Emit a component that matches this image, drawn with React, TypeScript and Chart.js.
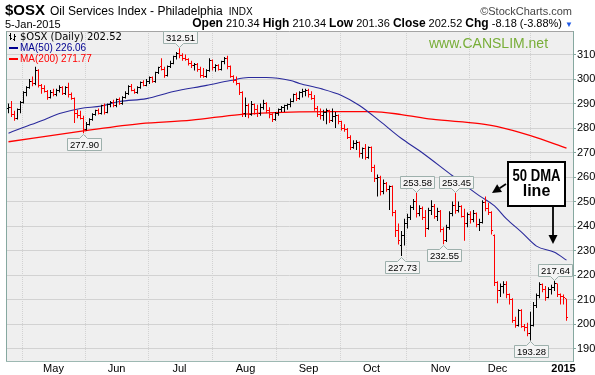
import { useEffect, useRef } from 'react';
import { Chart, registerables } from 'chart.js';

Chart.register(...registerables);

// ---------- data ----------
const monthStarts = [15, 36, 57, 79, 100, 121, 144, 163, 185];
const monthLabels = ['May', 'Jun', 'Jul', 'Aug', 'Sep', 'Oct', 'Nov', 'Dec', '2015'];
const priceTicks = [190, 200, 210, 220, 230, 240, 250, 260, 270, 280, 290, 300, 310];

const opens = [
  288, 288.5, 285.5, 284, 287.5, 290.5, 294.5, 296.5, 299, 298, 303.5, 297.5, 296, 295, 292.5,
  294.5, 293.5, 295.5, 296.5, 294, 296.5, 293.5, 292, 286, 285, 284, 279.5, 281.5, 283.5, 285.5, 287, 286, 289, 286.5, 289.5, 290.5,
  289, 291.5, 290, 292.5, 294, 297, 295.5, 294.5, 296.5, 298.5, 297.5, 299, 300.5, 299, 302.5, 305, 304, 301.5, 305, 306.5, 309,
  310.5, 309.5, 308.5, 308, 306.5, 305.5, 306, 304, 301.5, 301, 303.5, 307.5, 304.5, 305.5, 304, 307, 308.5, 305, 301, 299.5, 298, 294.5,
  286, 289, 285.5, 289.5, 287.5, 286, 288.5, 290, 287, 285.5, 283.5, 286, 287.5, 288.5, 289, 289.5, 291, 293.5, 292, 294.5, 295,
  295.5, 293.5, 292, 288, 285.5, 285, 286.5, 287, 283, 284.5, 285, 282.5, 280, 279.5, 276, 272, 273.5, 274, 269.5, 271.5, 268,
  272, 264, 259.5, 260, 254, 257.5, 255, 256, 245.5, 238, 232, 236, 241, 243.5, 247.5, 250, 245, 247, 243.5, 239, 246.5, 248, 244,
  246, 238.5, 234, 239.5, 245, 248.5, 246.5, 248, 244, 241, 244.5, 242.5, 245, 240.5, 241.5, 249.5, 247, 245.5, 236,
  217, 213.5, 215.5, 216, 212, 210, 201.5, 199.5, 205.5, 199, 198.5, 196, 199.5, 207.5, 211.5, 216, 214, 211, 214, 215, 216.5, 212,
  211.3, 210.34,
];
const highs = [
  290, 291, 287, 288, 291, 295, 297, 300, 301, 305, 304, 298, 297.5, 295.5, 295.5,
  296, 296, 297.5, 297, 297, 298.5, 294.5, 292.5, 287.5, 287, 285, 282.5, 284, 286, 287.5, 288, 289.5, 290, 290, 291, 291.5,
  292, 292.5, 293, 295, 297.5, 298, 296, 297, 299, 299.5, 300, 301, 301, 303, 305, 308.5, 305, 305.5, 307.5, 309.5, 311,
  312.51, 310.5, 310, 308.5, 307.5, 306.5, 306.5, 305, 304.5, 304, 308.5, 308, 306, 306, 307.5, 309, 309.5, 305.5, 301.5, 301, 298.5, 295,
  292.5, 290, 291, 290, 289.5, 290, 291.5, 290.5, 288.5, 286, 286.5, 288, 289, 289.5, 290, 292, 294, 294.5, 295, 296, 296,
  296, 295, 293.5, 289, 288, 287.5, 288, 287.5, 288, 286.5, 285.5, 283, 281.5, 280, 277, 275, 275, 274.5, 272, 273.5, 272.5,
  272.5, 265, 261, 260.5, 259, 258, 256.5, 256.5, 246.5, 241, 238, 243, 245, 248.5, 251, 253.58, 248.5, 248, 246.5, 247.5, 250.5, 249, 247.5,
  246.5, 239.5, 240.5, 246, 250, 253.45, 250, 248.5, 247, 245.5, 246, 246.5, 245.5, 243, 250.5, 252, 249.5, 246, 236.5,
  217.5, 216.5, 217.5, 217.5, 212.5, 210.5, 203, 206, 206, 200, 200.5, 205, 209, 212.5, 217, 216.5, 215.5, 215, 216, 217.64, 216.5, 212.5,
  212, 210.34,
];
const lows = [
  286, 284.5, 283, 283.5, 286, 290, 293, 296, 297, 297.5, 296.5, 294, 294.5, 291.5, 292,
  293, 293, 294.5, 293.5, 293.5, 292.5, 291.5, 282, 284, 283.5, 277.9, 279, 281, 283, 285, 285.5, 285.5, 285.5, 286, 288.5, 288.5,
  288.5, 289.5, 289.5, 292, 293.5, 295, 294, 294, 296, 297, 297, 298, 298.5, 298.5, 302, 303.5, 300.5, 301, 304.5, 306, 308,
  308.5, 307.5, 307.5, 305.5, 304.5, 303.5, 303, 300.5, 300.5, 300.5, 303, 303.5, 303, 303.5, 303.5, 306, 304, 300.5, 298.5, 297.5, 293.5, 284.5,
  284.5, 284, 285, 285.5, 284.5, 285, 287.5, 286, 284, 282.5, 283, 285, 286.5, 286.5, 287.5, 288.5, 290.5, 291, 291.5, 292.5, 293,
  292.5, 291.5, 287, 284.5, 283.5, 283, 281.5, 282, 282.5, 280, 281.5, 279, 278.5, 275.5, 271, 271.5, 271, 268, 267.5, 267, 267.5,
  262, 258, 252, 252.5, 253, 254, 246.5, 244, 235.5, 232.5, 227.73, 232, 239, 242.5, 246.5, 243.5, 244, 242.5, 235.5, 238.5, 244.5, 243, 242,
  237.5, 232.55, 233.5, 238.5, 244, 245, 245.5, 243.5, 234, 239.5, 241, 241.5, 239.5, 238, 241, 246, 244.5, 236.5, 215.5,
  208.5, 211, 212.5, 210.5, 208, 200.5, 198.5, 199, 198.5, 197, 195, 193.28, 199, 206.5, 210.5, 213, 209.5, 210.5, 212, 213.5, 211, 208,
  208, 201.36,
];
const closes = [
  288.5, 285.5, 284, 287.5, 290.5, 294.5, 296.5, 299, 298, 303.5, 297.5, 296, 295, 292.5, 294.5,
  293.5, 295.5, 296.5, 294, 296.5, 293.5, 292, 286, 285, 284, 279.5, 281.5, 283.5, 285.5, 287, 286, 289, 286.5, 289.5, 290.5, 289,
  291.5, 290, 292.5, 294, 297, 295.5, 294.5, 296.5, 298.5, 297.5, 299, 300.5, 299, 302.5, 304.5, 304, 301.5, 305, 306.5, 309, 310.5,
  309.5, 308.5, 308, 306.5, 305.5, 306, 304, 301.5, 301, 303.5, 307.5, 304.5, 305.5, 304, 307, 308.5, 305, 301, 299.5, 298, 294.5, 286,
  289, 285.5, 289.5, 287.5, 286, 288.5, 290, 287, 285.5, 283.5, 286, 287.5, 288.5, 289, 289.5, 291, 293.5, 292, 294.5, 295, 295.5,
  293.5, 292, 288, 285.5, 285, 286.5, 287, 283, 284.5, 285, 282.5, 280, 279.5, 276, 272, 273.5, 274, 269.5, 271.5, 268, 272,
  264, 259.5, 260, 254, 257.5, 255, 256, 245.5, 238, 234, 236, 241, 243.5, 247.5, 250, 245, 247, 243.5, 239, 246.5, 248, 244, 246,
  238.5, 234, 239.5, 245, 248.5, 246.5, 248, 244, 241, 244.5, 242.5, 245, 240.5, 241.5, 249.5, 247, 245.5, 238, 217,
  213.5, 215.5, 216, 212, 210, 201.5, 199.5, 205.5, 199, 198.5, 196, 199.5, 207.5, 211.5, 216, 214, 211, 214, 215, 216.5, 212, 211.3,
  210.7, 202.52,
];

const ma50Idx = [0, 4, 11, 17, 24, 31, 37, 46, 55, 66, 74, 80, 86, 94, 97, 104, 111, 117, 124, 131, 137, 148, 157, 162, 166, 171, 176, 182, 186];
const ma50Val = [277.9, 279.8, 283, 285.9, 288, 289, 290.8, 292, 294.9, 297.4, 299.4, 300.6, 300.6, 299.4, 298.2, 296.1, 293.3, 289.2, 282.6, 275.7, 270.7, 260.5, 252.3, 248.2, 242.9, 237.5, 231.8, 229.3, 226.06];
const ma200Idx = [0, 25, 44, 61, 77, 94, 108, 121, 131, 141, 157, 163, 174, 186];
const ma200Val = [274.4, 278.8, 281.8, 283.2, 285.5, 286.5, 286.7, 286.7, 285.5, 283.6, 281.8, 280.6, 276.9, 271.77];

const calloutIdx = [57, 25, 136, 149, 131, 145, 182, 174];
const calloutVal = [312.51, 277.9, 253.58, 253.45, 227.73, 232.55, 217.64, 193.28];
const calloutAbove = [true, false, true, true, false, false, true, false];

// ---------- styles ----------
const ARIAL = 'Arial, "Liberation Sans", sans-serif';
const RED = '#FF0000';
const BLACK = '#000000';
const NAVY = '#2A2A9C';

function barColor(i: number) {
  const prev = i === 0 ? opens[0] : closes[i - 1];
  return closes[i] < prev ? RED : BLACK;
}

function arrow(ctx: CanvasRenderingContext2D, x1: number, y1: number, x2: number, y2: number) {
  const ang = Math.atan2(y2 - y1, x2 - x1);
  const hl = 9, hw = 4.5;
  const bx = x2 - hl * Math.cos(ang), by = y2 - hl * Math.sin(ang);
  ctx.beginPath();
  ctx.moveTo(x1, y1);
  ctx.lineTo(bx, by);
  ctx.stroke();
  ctx.beginPath();
  ctx.moveTo(x2, y2);
  ctx.lineTo(bx + hw * Math.sin(ang), by - hw * Math.cos(ang));
  ctx.lineTo(bx - hw * Math.sin(ang), by + hw * Math.cos(ang));
  ctx.closePath();
  ctx.fill();
}

const osxPlugin = {
  id: 'osxPlugin',
  beforeDraw(chart: any) {
    const { ctx, chartArea: a } = chart;
    ctx.save();
    ctx.fillStyle = '#FFFFFF';
    ctx.fillRect(0, 0, chart.width, chart.height);
    ctx.fillStyle = '#EFEFEF';
    ctx.fillRect(a.left, a.top, a.right - a.left, a.bottom - a.top);
    ctx.restore();
  },
  afterDatasetsDraw(chart: any) {
    const { ctx } = chart;
    const xs = chart.scales.x, ys = chart.scales.y;
    ctx.save();
    for (let i = 0; i < closes.length; i++) {
      const px = Math.floor(xs.getPixelForValue(i));
      ctx.fillStyle = barColor(i);
      ctx.fillRect(px - 1, Math.floor(ys.getPixelForValue(opens[i])), 1, 1);
      ctx.fillRect(px + 1, Math.floor(ys.getPixelForValue(closes[i])), 1, 1);
    }
    ctx.restore();
  },
  afterDraw(chart: any) {
    const { ctx, chartArea: a } = chart;
    const xs = chart.scales.x, ys = chart.scales.y;
    ctx.save();
    // frame
    ctx.lineWidth = 1;
    ctx.strokeStyle = '#A4A4A4';
    ctx.beginPath();
    ctx.moveTo(a.left, a.top + 0.5);
    ctx.lineTo(a.right, a.top + 0.5);
    ctx.stroke();
    ctx.strokeStyle = '#86A8A0';
    ctx.beginPath();
    ctx.moveTo(a.left + 0.5, a.top);
    ctx.lineTo(a.left + 0.5, a.bottom);
    ctx.stroke();

    // legend
    ctx.fillStyle = BLACK;
    ctx.fillRect(10, 33, 1, 7);
    ctx.fillRect(9, 35, 1, 1);
    ctx.fillRect(11, 38, 1, 1);
    ctx.fillRect(14, 34, 1, 7);
    ctx.fillRect(13, 39, 1, 1);
    ctx.fillRect(15, 36, 1, 1);
    ctx.font = '10px "DejaVu Sans", Verdana, sans-serif';
    ctx.textBaseline = 'alphabetic';
    ctx.textAlign = 'left';
    ctx.fillText('$OSX (Daily) 202.52', 20, 40);
    ctx.font = '10px ' + ARIAL;
    ctx.fillStyle = '#000090';
    ctx.fillRect(9, 47, 9, 2);
    ctx.fillText('MA(50) 226.06', 20, 51);
    ctx.fillStyle = RED;
    ctx.fillRect(9, 58, 9, 2);
    ctx.fillText('MA(200) 271.77', 20, 62);

    // watermark
    ctx.fillStyle = '#78AE38';
    ctx.font = '14px ' + ARIAL;
    ctx.fillText('www.CANSLIM.net', 429, 48);

    // callouts
    ctx.font = '9.5px ' + ARIAL;
    for (let k = 0; k < calloutIdx.length; k++) {
      const cx = Math.floor(xs.getPixelForValue(calloutIdx[k])) + 0.5;
      const yv = ys.getPixelForValue(calloutVal[k]);
      const text = calloutVal[k].toFixed(2);
      const w = Math.round(ctx.measureText(text).width) + 5;
      const h = 12;
      const left = Math.round(cx - w / 2) + 0.5;
      const above = calloutAbove[k];
      const top = above ? Math.round(yv - 5 - h) + 0.5 : Math.round(yv + 5) + 0.5;
      ctx.beginPath();
      if (above) {
        ctx.moveTo(left, top);
        ctx.lineTo(left + w, top);
        ctx.lineTo(left + w, top + h);
        ctx.lineTo(cx + 4, top + h);
        ctx.lineTo(cx, top + h + 4);
        ctx.lineTo(cx - 4, top + h);
        ctx.lineTo(left, top + h);
      } else {
        ctx.moveTo(left, top);
        ctx.lineTo(cx - 4, top);
        ctx.lineTo(cx, top - 4);
        ctx.lineTo(cx + 4, top);
        ctx.lineTo(left + w, top);
        ctx.lineTo(left + w, top + h);
        ctx.lineTo(left, top + h);
      }
      ctx.closePath();
      ctx.fillStyle = '#F4F4F4';
      ctx.fill();
      ctx.strokeStyle = '#9DB0AC';
      ctx.lineWidth = 1;
      ctx.stroke();
      ctx.fillStyle = BLACK;
      ctx.textAlign = 'center';
      ctx.textBaseline = 'middle';
      ctx.fillText(text, left + w / 2, top + h / 2 + 0.5);
    }

    // 50 DMA annotation
    ctx.fillStyle = '#FFFFFF';
    ctx.fillRect(508, 162, 57, 44);
    ctx.strokeStyle = BLACK;
    ctx.lineWidth = 2;
    ctx.strokeRect(508, 162, 57, 44);
    ctx.fillStyle = BLACK;
    ctx.font = 'bold 16px ' + ARIAL;
    ctx.textAlign = 'center';
    ctx.textBaseline = 'middle';
    ctx.fillText('50 DMA', 536.5, 177, 48);
    ctx.fillText('line', 536.5, 192, 48);
    ctx.lineWidth = 1.8;
    arrow(ctx, 506, 184, 492, 193);
    arrow(ctx, 553, 207, 553, 244);
    ctx.restore();
  },
};

export default function App() {
  const ref = useRef<HTMLCanvasElement>(null);

  useEffect(() => {
    document.body.style.margin = '0';
    const ohlc = highs.map((h, i) => ({ x: i, y: [lows[i], h] }));
    const colors = closes.map((_, i) => barColor(i));
    const chart = new Chart(ref.current as HTMLCanvasElement, {
      type: 'bar',
      data: {
        datasets: [
          {
            type: 'bar',
            data: ohlc as any,
            backgroundColor: colors,
            borderWidth: 0,
            barThickness: 1,
            inflateAmount: 0,
            order: 0,
          } as any,
          {
            type: 'line',
            data: ma50Idx.map((x, k) => ({ x, y: ma50Val[k] })),
            borderColor: NAVY,
            borderWidth: 1.1,
            pointRadius: 0,
            cubicInterpolationMode: 'monotone',
            order: 1,
          } as any,
          {
            type: 'line',
            data: ma200Idx.map((x, k) => ({ x, y: ma200Val[k] })),
            borderColor: RED,
            borderWidth: 1.3,
            pointRadius: 0,
            cubicInterpolationMode: 'monotone',
            order: 2,
          } as any,
        ],
      },
      options: {
        responsive: false,
        animation: false,
        devicePixelRatio: 1,
        layout: { padding: { top: 31, left: 6, right: 0, bottom: 0 } },
        plugins: { legend: { display: false }, tooltip: { enabled: false }, title: { display: false } },
        scales: {
          x: {
            type: 'linear',
            min: -5 / 6,
            max: 189 - 5 / 6,
            offset: false,
            afterBuildTicks: (axis: any) => {
              axis.ticks = monthStarts.map((v) => ({ value: v }));
            },
            afterFit: (axis: any) => {
              axis.height = 14;
            },
            ticks: {
              autoSkip: false,
              maxRotation: 0,
              padding: 1,
              color: BLACK,
              font: (c: any) => ({
                family: ARIAL,
                size: 11,
                weight: c.tick && c.tick.value === 185 ? 'bold' : 'normal',
              }),
              callback: (v: any) => monthLabels[monthStarts.indexOf(Number(v))] ?? '',
            },
            grid: { color: '#D2D2D2', lineWidth: 1, drawTicks: false },
            border: { display: true, color: '#9DB8B2', dash: [1, 1] },
          },
          y: {
            type: 'linear',
            position: 'right',
            min: 184.9,
            max: 319.6,
            afterBuildTicks: (axis: any) => {
              axis.ticks = priceTicks.map((v) => ({ value: v }));
            },
            afterFit: (axis: any) => {
              axis.width = 22;
            },
            ticks: {
              padding: 1,
              color: BLACK,
              font: { family: ARIAL, size: 11 },
              callback: (v: any) => String(v),
            },
            grid: { color: '#D2D2D2', lineWidth: 1, tickLength: 3, tickColor: '#86A8A0' },
            border: { display: true, color: '#86A8A0' },
          },
        },
      },
      plugins: [osxPlugin],
    } as any);
    return () => chart.destroy();
  }, []);

  return (
    <div style={{ position: 'fixed', left: 0, top: 0, width: 595, height: 375, background: '#FFFFFF', fontFamily: ARIAL, color: '#000' }}>
      <canvas ref={ref} width={595} height={375} style={{ position: 'absolute', left: 0, top: 0, width: 595, height: 375 }} />
      <div style={{ position: 'absolute', left: 5, top: 1, whiteSpace: 'nowrap', lineHeight: '18px' }}>
        <span style={{ fontWeight: 'bold', fontSize: 15 }}>$OSX</span>
        <span style={{ fontSize: 12, marginLeft: 5 }}>Oil Services Index - Philadelphia</span>
        <span style={{ fontSize: 10, marginLeft: 6 }}>INDX</span>
      </div>
      <div style={{ position: 'absolute', right: 23, top: 4, fontSize: 11, color: '#444', whiteSpace: 'nowrap', lineHeight: '14px' }}>
        ©StockCharts.com
      </div>
      <div style={{ position: 'absolute', left: 5, top: 17, fontSize: 11, whiteSpace: 'nowrap', lineHeight: '14px' }}>5-Jan-2015</div>
      <div style={{ position: 'absolute', right: 22, top: 16, fontSize: 11, whiteSpace: 'nowrap', lineHeight: '14px' }}>
        <b style={{ fontSize: 12 }}>Open</b> 210.34 <b style={{ fontSize: 12 }}>High</b> 210.34{' '}
        <b style={{ fontSize: 12 }}>Low</b> 201.36 <b style={{ fontSize: 12 }}>Close</b> 202.52{' '}
        <b style={{ fontSize: 12 }}>Chg</b> -8.18 (-3.88%) <span style={{ color: '#1F5AE6', fontSize: 8 }}>▼</span>
      </div>
    </div>
  );
}
